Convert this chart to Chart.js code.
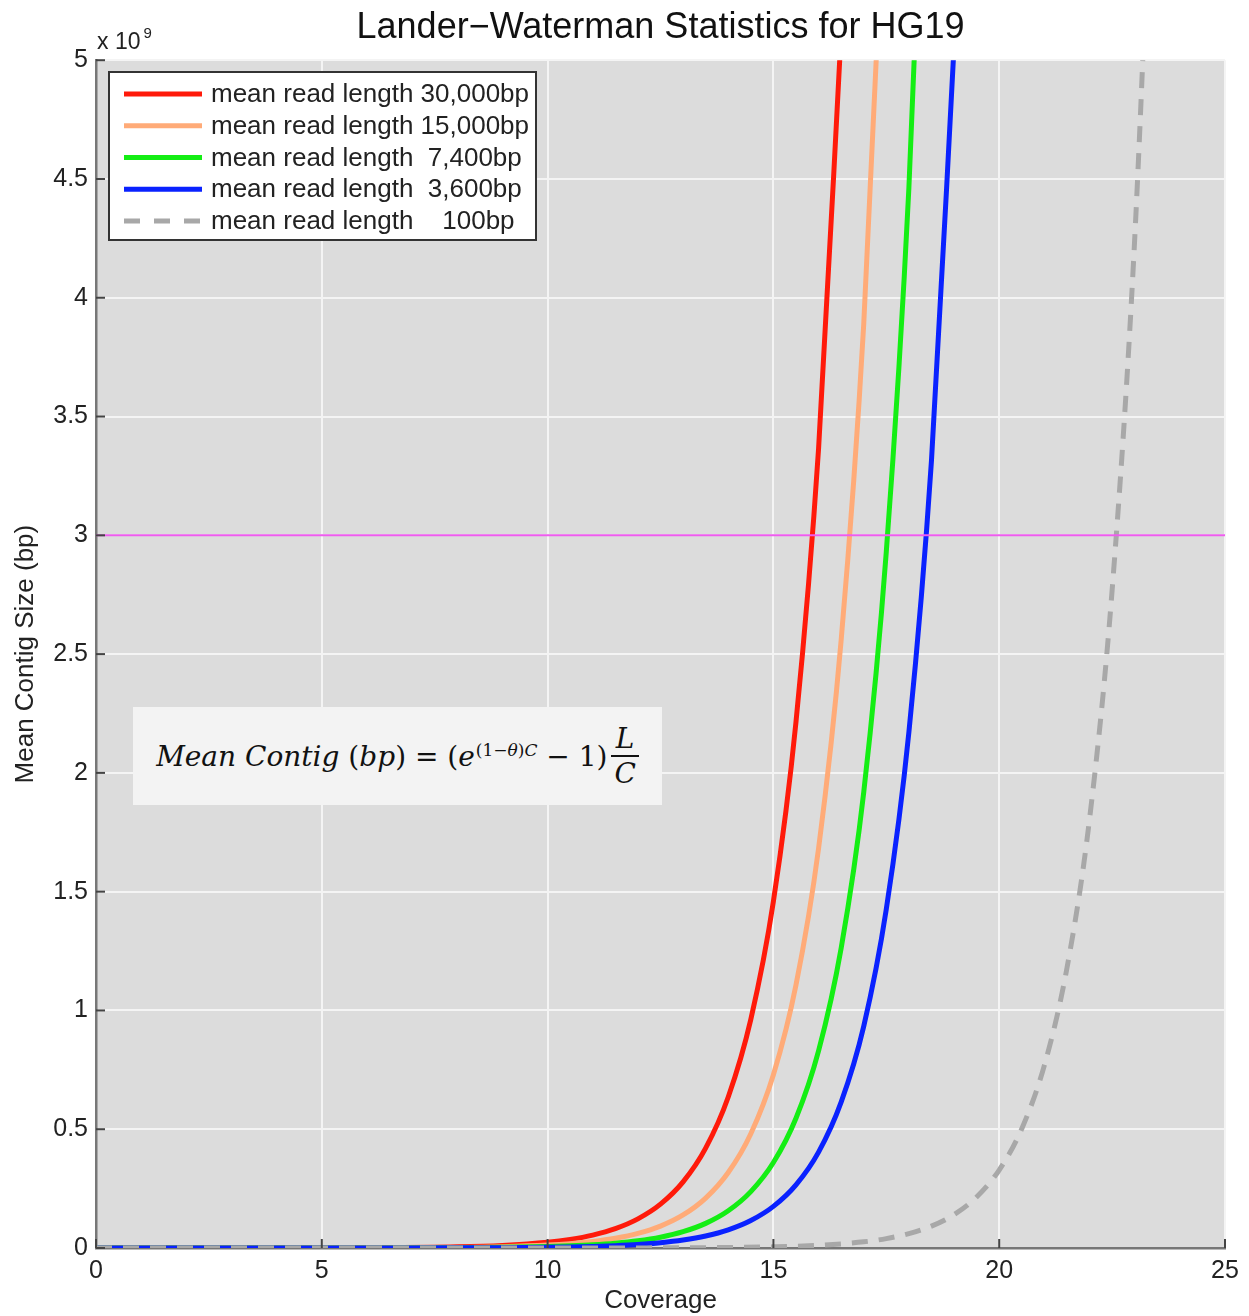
<!DOCTYPE html>
<html>
<head>
<meta charset="utf-8">
<script src="https://cdn.jsdelivr.net/npm/chart.js@4.4.1/dist/chart.umd.min.js"></script>
<style>
  html, body { margin: 0; padding: 0; background: #fff; }
  #wrap { position: relative; width: 1249px; height: 1316px; }
  #eq {
    position: absolute; left: 133px; top: 707px; width: 529px; height: 98px;
    background: #f3f3f3; display: flex; align-items: center; justify-content: center;
    font-family: "DejaVu Serif", "Liberation Serif", serif; font-size: 28px; color: #111;
    white-space: nowrap;
  }
  #eq i { font-style: italic; }
  #eq sup { font-size: 17px; position: relative; top: -6px; margin-left: 1px; }
  #eq .frac { display: inline-flex; flex-direction: column; align-items: center; margin-left: 4px; font-style: italic; }
  #eq .frac span { line-height: 33px; padding: 0 3px; }
  #eq .frac span + span { border-top: 2px solid #111; }
</style>
</head>
<body>
<div id="wrap">
  <canvas id="chart" width="1249" height="1316"></canvas>
  <div id="eq"><i>Mean Contig</i>&nbsp;(<i>bp</i>)&nbsp;=&nbsp;(<i>e</i><sup>(1−<i>θ</i>)<i>C</i></sup>&nbsp;−&nbsp;1)<span class="frac"><span>L</span><span>C</span></span></div>
</div>
<script>
// Mean contig size in units of 10^9 bp for each read length
const labels = [
  "mean read length 30,000bp",
  "mean read length 15,000bp",
  "mean read length  7,400bp",
  "mean read length  3,600bp",
  "mean read length    100bp",
];
const colors = ["#ff1a0a", "#ffab78", "#14ee14", "#0a22ff", "#a8a8a8"];

const cov30k = [0, 4, 6, 8, 9, 10, 10.5, 11, 11.5, 12, 12.5, 13, 13.5, 14, 14.5, 15, 15.5, 16, 16.5];
const val30k = [0, 0.0003, 0.0011, 0.005, 0.011, 0.0243, 0.0363, 0.0544, 0.0815, 0.1226, 0.1845, 0.2782, 0.4202, 0.6355, 0.9623, 1.4588, 2.214, 3.3636, 5.116];

const cov15k = [0, 4, 6, 8, 9, 10, 10.5, 11, 11.5, 12, 12.5, 13, 13.5, 14, 14.5, 15, 15.5, 16, 16.5, 17, 17.5];
const val15k = [0, 0.0001, 0.0006, 0.0025, 0.0055, 0.0122, 0.0182, 0.0272, 0.0408, 0.0613, 0.0923, 0.1391, 0.2101, 0.3178, 0.4812, 0.7294, 1.107, 1.6818, 2.558, 3.888, 5.941];

const cov7k = [0, 4, 6, 8, 9, 10, 10.5, 11, 11.5, 12, 12.5, 13, 13.5, 14, 14.5, 15, 15.5, 16, 16.5, 17, 17.5, 18, 18.5];
const val7k = [0, 0.0001, 0.0003, 0.0012, 0.0027, 0.006, 0.009, 0.0134, 0.0201, 0.0302, 0.0455, 0.0686, 0.1036, 0.1568, 0.2374, 0.3598, 0.5461, 0.8297, 1.262, 1.918, 2.931, 4.462, 6.811];

const cov3k = [0, 4, 6, 8, 9, 10, 10.5, 11, 11.5, 12, 12.5, 13, 13.5, 14, 14.5, 15, 15.5, 16, 16.5, 17, 17.5, 18, 18.5, 19];
const val3k = [0, 0, 0.0001, 0.0006, 0.0013, 0.0029, 0.0044, 0.0065, 0.0098, 0.0147, 0.0221, 0.0334, 0.0504, 0.0763, 0.1155, 0.1751, 0.2657, 0.4036, 0.614, 0.933, 1.426, 2.171, 3.314, 5.058];

const cov100 = [0, 10, 12, 14, 15, 16, 17, 17.5, 18, 18.5, 19, 19.5, 20, 20.5, 21, 21.5, 22, 22.5, 23, 23.5];
const val100 = [0, 0.0001, 0.0004, 0.0021, 0.0049, 0.0112, 0.0259, 0.0396, 0.0603, 0.092, 0.1405, 0.2147, 0.3283, 0.5023, 0.7689, 1.178, 1.805, 2.768, 4.246, 6.518];

// HG19 genome size line (x 10^9 bp)
const genomeCov = [0, 25];
const genomeVal = [3, 3];

const xTicks = [0, 5, 10, 15, 20, 25];
const yTicks = [0, 0.5, 1, 1.5, 2, 2.5, 3, 3.5, 4, 4.5, 5];

const pts = (xs, ys) => xs.map((x, i) => ({ x: x, y: ys[i] }));
const allCov = [cov30k, cov15k, cov7k, cov3k, cov100];
const allVal = [val30k, val15k, val7k, val3k, val100];

const FONT = "'Liberation Sans', Arial, sans-serif";

const datasets = allCov.map((c, i) => ({
  label: labels[i],
  data: pts(c, allVal[i]),
  borderColor: colors[i],
  borderWidth: 5,
  borderDash: i === 4 ? [16, 11] : [],
  pointRadius: 0,
  cubicInterpolationMode: "monotone",
  clip: 0,
  order: 5 - i,
}));
datasets.push({
  label: "",
  data: pts(genomeCov, genomeVal),
  borderColor: "#ee5cee",
  borderWidth: 2,
  pointRadius: 0,
  clip: 0,
  order: 0,
  isRef: true,
});

// grey plot area, inward ticks, exponent label and boxed legend
const matlabLook = {
  id: "matlabLook",
  beforeDraw(chart) {
    const { ctx, chartArea: a } = chart;
    ctx.save();
    ctx.fillStyle = "#dcdcdc";
    ctx.fillRect(a.left, a.top, a.right - a.left, a.bottom - a.top);
    ctx.restore();
  },
  afterDraw(chart) {
    const { ctx, chartArea: a, scales } = chart;
    ctx.save();
    ctx.strokeStyle = "#444";
    ctx.lineWidth = 2;
    xTicks.forEach((t) => {
      const x = scales.x.getPixelForValue(t);
      ctx.beginPath(); ctx.moveTo(x, a.bottom); ctx.lineTo(x, a.bottom - 9); ctx.stroke();
    });
    yTicks.forEach((t) => {
      const y = scales.y.getPixelForValue(t);
      ctx.beginPath(); ctx.moveTo(a.left, y); ctx.lineTo(a.left + 9, y); ctx.stroke();
    });

    // x 10^9
    ctx.fillStyle = "#222";
    ctx.font = "23px " + FONT;
    ctx.textBaseline = "alphabetic";
    ctx.fillText("x 10", a.left + 1, a.top - 11);
    const w = ctx.measureText("x 10").width;
    ctx.font = "15px " + FONT;
    ctx.fillText("9", a.left + 4 + w, a.top - 22);

    // legend box
    const bx = 109, by = 72, bw = 427, bh = 168;
    ctx.fillStyle = "#fff";
    ctx.fillRect(bx, by, bw, bh);
    ctx.strokeStyle = "#333";
    ctx.lineWidth = 2;
    ctx.strokeRect(bx, by, bw, bh);
    ctx.font = "26px " + FONT;
    ctx.textBaseline = "middle";
    chart.data.datasets.filter((d) => !d.isRef).forEach((d, i) => {
      const y = 94 + i * 31.75;
      ctx.strokeStyle = d.borderColor;
      ctx.lineWidth = 5;
      ctx.setLineDash(d.borderDash.length ? [16, 14] : []);
      ctx.beginPath(); ctx.moveTo(124, y); ctx.lineTo(202, y); ctx.stroke();
      ctx.setLineDash([]);
      ctx.fillStyle = "#222";
      ctx.fillText(d.label, 211, y + 1);
    });
    ctx.restore();
  },
};

new Chart(document.getElementById("chart"), {
  type: "line",
  data: { datasets: datasets },
  plugins: [matlabLook],
  options: {
    responsive: false,
    animation: false,
    devicePixelRatio: 1,
    layout: { padding: { left: 0, right: 24, top: 0, bottom: 0 } },
    plugins: {
      legend: { display: false },
      tooltip: { enabled: false },
      title: {
        display: true,
        fullSize: false,
        text: "Lander\u2212Waterman Statistics for HG19",
        color: "#111",
        font: { family: FONT, size: 36, weight: "normal" },
        padding: { top: 6, bottom: 11 },
      },
    },
    scales: {
      x: {
        type: "linear",
        min: 0,
        max: 25,
        afterFit: (s) => { s.height = 68; },
        afterBuildTicks: (s) => { s.ticks = xTicks.map((v) => ({ value: v })); },
        grid: { color: "#f4f4f4", lineWidth: 2, drawTicks: false },
        border: { color: "#777", width: 2.5 },
        ticks: { color: "#222", font: { family: FONT, size: 25 }, padding: 8, maxRotation: 0 },
        title: { display: true, text: "Coverage", color: "#222", font: { family: FONT, size: 26 }, padding: { top: 0, bottom: 0 } },
      },
      y: {
        type: "linear",
        min: 0,
        max: 5,
        afterFit: (s) => { s.width = 96; },
        afterBuildTicks: (s) => { s.ticks = yTicks.map((v) => ({ value: v })); },
        grid: { color: "#f4f4f4", lineWidth: 2, drawTicks: false },
        border: { color: "#777", width: 2.5 },
        ticks: { color: "#222", font: { family: FONT, size: 25 }, padding: 8, callback: (v) => String(v) },
        title: { display: true, text: "Mean Contig Size (bp)", color: "#222", font: { family: FONT, size: 26 }, padding: { top: 10, bottom: 0 } },
      },
    },
  },
});
</script>
</body>
</html>
